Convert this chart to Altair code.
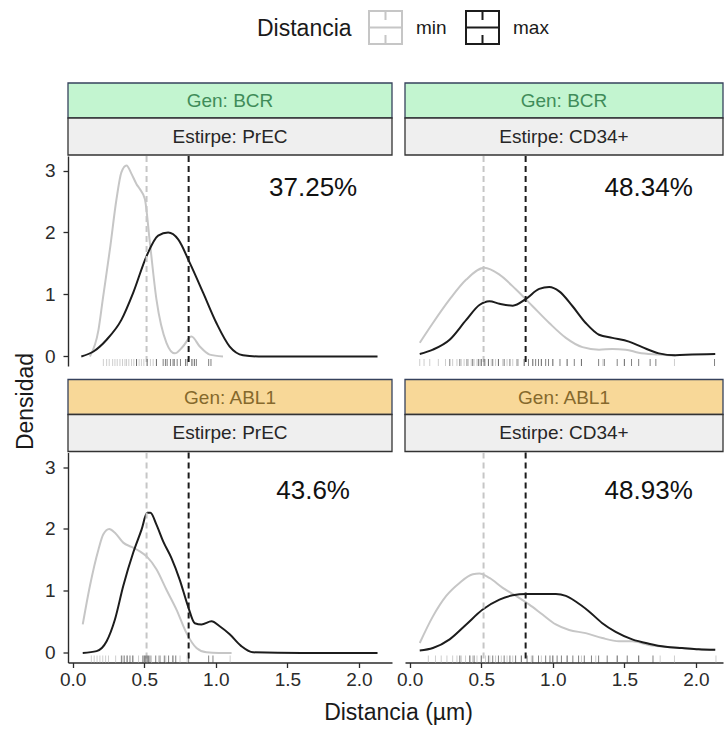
import altair as alt
import pandas as pd

# ---------------- data ----------------
GROUPS = ["min", "max"]
PCT_LABELS = ["37.25%", "48.34%", "43.6%", "48.93%"]
PCT_X = [1.68, 1.67, 1.68, 1.67]
PCT_Y = [2.72, 2.72, 2.62, 2.62]
VLINE_MIN = 0.516
VLINE_MAX = 0.81

# Panel 1: Gen BCR / Estirpe PrEC
bcr_prec_min_x = [0.12, 0.18, 0.21, 0.26, 0.306, 0.34, 0.376, 0.41, 0.446, 0.469, 0.504, 0.539, 0.585, 0.655, 0.713, 0.77, 0.83, 0.888, 0.957, 1.05]
bcr_prec_min_y = [0.0, 0.43, 0.92, 1.73, 2.54, 2.97, 3.08, 2.95, 2.78, 2.70, 2.54, 1.84, 0.92, 0.22, 0.05, 0.16, 0.32, 0.16, 0.03, 0.0]
bcr_prec_max_x = [0.06, 0.145, 0.237, 0.34, 0.423, 0.516, 0.597, 0.667, 0.737, 0.818, 0.911, 1.004, 1.097, 1.19, 1.3, 1.6, 2.13]
bcr_prec_max_y = [0.0, 0.08, 0.27, 0.59, 1.03, 1.62, 1.95, 2.0, 1.89, 1.51, 1.03, 0.54, 0.16, 0.02, 0.0, 0.0, 0.0]
bcr_prec_rug_min = [0.214, 0.237, 0.255, 0.279, 0.295, 0.311, 0.33, 0.348, 0.365, 0.376, 0.392, 0.411, 0.427, 0.446, 0.464, 0.48, 0.497, 0.52, 0.543, 0.562, 0.585, 0.83, 0.85]
bcr_prec_rug_max = [0.446, 0.52, 0.585, 0.632, 0.648, 0.66, 0.683, 0.701, 0.71, 0.73, 0.753, 0.788, 0.80, 0.834, 0.85, 0.864, 0.95, 0.966]

# Panel 2: Gen BCR / Estirpe CD34+
bcr_cd34_min_x = [0.07, 0.162, 0.279, 0.395, 0.522, 0.627, 0.743, 0.859, 0.975, 1.091, 1.207, 1.323, 1.416, 1.509, 1.6, 1.741, 1.857]
bcr_cd34_min_y = [0.22, 0.54, 0.92, 1.24, 1.43, 1.32, 1.08, 0.81, 0.54, 0.30, 0.15, 0.11, 0.12, 0.11, 0.06, 0.03, 0.01]
bcr_cd34_max_x = [0.07, 0.162, 0.279, 0.395, 0.487, 0.557, 0.627, 0.72, 0.813, 0.905, 0.975, 1.045, 1.138, 1.23, 1.323, 1.416, 1.532, 1.625, 1.741, 1.857, 1.973, 2.135]
bcr_cd34_max_y = [0.04, 0.11, 0.27, 0.59, 0.83, 0.89, 0.85, 0.82, 0.93, 1.09, 1.12, 1.05, 0.81, 0.54, 0.35, 0.30, 0.24, 0.15, 0.05, 0.02, 0.03, 0.04]
bcr_cd34_rug_min = [0.07, 0.10, 0.14, 0.20, 0.25, 0.30, 0.33, 0.36, 0.38, 0.41, 0.43, 0.45, 0.47, 0.49, 0.50, 0.52, 0.53, 0.55, 0.57, 0.60, 0.62, 0.65, 0.68, 0.72, 0.76, 0.80, 0.86, 0.92, 1.00, 1.10, 1.20, 1.35, 1.50, 1.85]
bcr_cd34_rug_max = [0.28, 0.35, 0.40, 0.44, 0.48, 0.50, 0.52, 0.55, 0.58, 0.62, 0.66, 0.70, 0.75, 0.80, 0.83, 0.86, 0.88, 0.90, 0.92, 0.95, 0.97, 1.00, 1.05, 1.10, 1.15, 1.20, 1.32, 1.36, 1.45, 1.50, 1.55, 1.60, 1.68, 1.72, 2.13]

# Panel 3: Gen ABL1 / Estirpe PrEC
abl_prec_min_x = [0.07, 0.12, 0.18, 0.213, 0.255, 0.295, 0.353, 0.411, 0.469, 0.52, 0.585, 0.655, 0.725, 0.795, 0.865, 0.934, 1.02, 1.11]
abl_prec_min_y = [0.46, 1.08, 1.67, 1.91, 2.0, 1.94, 1.78, 1.71, 1.64, 1.55, 1.35, 1.02, 0.70, 0.32, 0.08, 0.01, 0.0, 0.0]
abl_prec_max_x = [0.07, 0.167, 0.237, 0.295, 0.353, 0.423, 0.481, 0.52, 0.543, 0.585, 0.632, 0.69, 0.748, 0.806, 0.853, 0.9, 0.97, 1.027, 1.097, 1.178, 1.26, 1.6, 2.13]
abl_prec_max_y = [0.0, 0.03, 0.19, 0.54, 1.08, 1.62, 1.99, 2.26, 2.26, 2.07, 1.80, 1.53, 1.18, 0.75, 0.48, 0.46, 0.51, 0.43, 0.30, 0.11, 0.01, 0.0, 0.0]
abl_prec_rug_min = [0.13, 0.15, 0.17, 0.19, 0.21, 0.23, 0.25, 0.30, 0.35, 0.38, 0.42, 0.46, 0.50, 0.52, 0.55, 0.60, 0.65, 0.70, 0.75, 0.80, 1.10]
abl_prec_rug_max = [0.34, 0.36, 0.38, 0.40, 0.42, 0.49, 0.50, 0.51, 0.52, 0.53, 0.54, 0.58, 0.61, 0.64, 0.67, 0.70, 0.72, 0.81, 0.95, 0.98]

# Panel 4: Gen ABL1 / Estirpe CD34+
abl_cd34_min_x = [0.07, 0.162, 0.255, 0.348, 0.441, 0.487, 0.557, 0.65, 0.743, 0.836, 0.928, 1.021, 1.114, 1.23, 1.346, 1.462, 1.555, 1.671, 1.787, 1.903, 2.019, 2.135]
abl_cd34_min_y = [0.16, 0.59, 0.92, 1.13, 1.27, 1.28, 1.21, 1.05, 0.92, 0.78, 0.62, 0.46, 0.37, 0.32, 0.24, 0.19, 0.19, 0.13, 0.10, 0.08, 0.06, 0.05]
abl_cd34_max_x = [0.07, 0.162, 0.279, 0.395, 0.51, 0.627, 0.72, 0.813, 0.905, 1.021, 1.091, 1.16, 1.253, 1.346, 1.439, 1.555, 1.671, 1.787, 1.903, 2.019, 2.135]
abl_cd34_max_y = [0.04, 0.08, 0.22, 0.46, 0.70, 0.86, 0.93, 0.95, 0.95, 0.95, 0.92, 0.83, 0.67, 0.48, 0.34, 0.22, 0.15, 0.10, 0.08, 0.06, 0.05]
abl_cd34_rug_min = [0.13, 0.18, 0.22, 0.26, 0.30, 0.33, 0.36, 0.39, 0.42, 0.44, 0.47, 0.50, 0.53, 0.56, 0.60, 0.64, 0.68, 0.72, 0.78, 0.85, 0.92, 1.00, 1.10, 1.20, 1.30, 1.45, 1.60, 1.75, 1.85, 2.14]
abl_cd34_rug_max = [0.35, 0.42, 0.45, 0.50, 0.55, 0.58, 0.62, 0.66, 0.70, 0.74, 0.78, 0.82, 0.86, 0.90, 0.95, 0.98, 1.00, 1.03, 1.06, 1.10, 1.14, 1.18, 1.22, 1.27, 1.32, 1.38, 1.45, 1.52, 1.60, 1.70]

# ---------------- style ----------------
FONT = "Liberation Sans"
GREY = "#c6c6c6"
BLACK = "#1c1c1c"
AXIS_COL = "#2b2b2b"
XMIN = -0.033
PX_PER = 143.1
W_L, W_R, H = 324, 318, 210
YDOM = [-0.154, 3.234]
KEY_PATH = "M-1,-1H1V1H-1Z M-1,0H1 M0,-1V-0.45 M0,0.45V1"

GEN_STYLE = {
    "BCR": {"fill": "#c3f5d0", "text": "#3f8c59"},
    "ABL1": {"fill": "#f8d898", "text": "#85692c"},
}
STRIP_BORDER_GEN = "#36425c"
STRIP_BORDER = "#333333"
STRIP_FILL = "#efefef"

legend = alt.Legend(
    title="Distancia", orient="none", direction="horizontal",
    legendX=189, legendY=-146,
    titleOrient="left", titleFontSize=23, titleFontWeight="normal", titleColor="#1a1a1a",
    titleFont=FONT, titlePadding=16, titleBaseline="middle",
    labelFontSize=19, labelColor="#1a1a1a", labelFont=FONT, labelOffset=13,
    symbolType=KEY_PATH, symbolSize=1089, symbolStrokeWidth=2,
    symbolFillColor="transparent", columnPadding=15,
)


def axis_x(first):
    kw = dict(
        values=[0, 0.5, 1, 1.5, 2], format=".1f", grid=False,
        tickSize=5, tickWidth=1.3, tickColor=AXIS_COL,
        domainColor=AXIS_COL, domainWidth=1.4,
        labelFontSize=19, labelFont=FONT, labelColor=AXIS_COL, labelPadding=3,
    )
    if first:
        kw.update(title="Distancia (µm)", titleFontSize=23, titleFont=FONT,
                  titleFontWeight="normal", titleColor="#1a1a1a",
                  titleX=330, titleY=57, titleBaseline="alphabetic")
    else:
        kw.update(title=None)
    return alt.Axis(**kw)


def axis_y(first):
    kw = dict(
        values=[0, 1, 2, 3], grid=False, tickSize=5, tickWidth=1.3, tickColor=AXIS_COL,
        domainColor=AXIS_COL, domainWidth=1.4,
        labelFontSize=19, labelFont=FONT, labelColor=AXIS_COL, labelPadding=8,
    )
    if first:
        kw.update(title="Densidad", titleFontSize=23, titleFont=FONT, titleFontWeight="normal",
                  titleColor="#1a1a1a", titleX=-43, titleY=245, titleAngle=270,
                  titleBaseline="middle", titleAlign="center")
    else:
        kw.update(title=None)
    return alt.Axis(**kw)


def make_panel(idx, gen, estirpe, mn_x, mn_y, mx_x, mx_y, rug_min, rug_max,
               width, show_x, show_y, first_x, first_y):
    xmax = XMIN + width / PX_PER
    xs = alt.Scale(domain=[XMIN, xmax], nice=False, zero=False)
    ys = alt.Scale(domain=YDOM, nice=False, zero=False)
    xaxis = axis_x(first_x) if show_x else None
    yaxis = axis_y(first_y) if show_y else None

    X = alt.X("x:Q", scale=xs, axis=xaxis)
    Y = alt.Y("y:Q", scale=ys, axis=yaxis)

    curves = pd.concat([
        pd.DataFrame({"x": mn_x, "y": mn_y, "Distancia": "min"}),
        pd.DataFrame({"x": mx_x, "y": mx_y, "Distancia": "max"}),
    ], ignore_index=True)
    vlines = pd.DataFrame({"x": [VLINE_MIN, VLINE_MAX], "y": [0, 0],
                           "c": [GREY, BLACK]})
    rug = pd.concat([
        pd.DataFrame({"x": rug_min, "y": 0.0, "c": "#bdbdbd", "o": 0.75}),
        pd.DataFrame({"x": rug_max, "y": 0.0, "c": BLACK, "o": 0.55}),
    ], ignore_index=True)
    pct = pd.DataFrame({"x": [PCT_X[idx]], "y": [PCT_Y[idx]], "t": [PCT_LABELS[idx]]})
    strip_df = pd.DataFrame({"x": [0.0], "y": [0.0], "gen": ["Gen: " + gen],
                             "est": ["Estirpe: " + estirpe]})

    line_layer = alt.Chart(curves).mark_line(strokeWidth=2, interpolate="monotone").encode(
        x=X, y=Y,
        color=alt.Color("Distancia:N", scale=alt.Scale(domain=GROUPS, range=[GREY, BLACK]),
                        legend=legend),
        detail="Distancia:N",
    )
    vline_layer = alt.Chart(vlines).mark_rule(strokeWidth=2, strokeDash=[6, 4]).encode(
        x=X, y=alt.value(0), y2=alt.value(H), color=alt.Color("c:N", scale=None),
    )
    rug_layer = alt.Chart(rug).mark_rule(strokeWidth=1).encode(
        x=X, y=alt.value(H - 7), y2=alt.value(H),
        color=alt.Color("c:N", scale=None), opacity=alt.Opacity("o:Q", scale=None),
    )
    pct_layer = alt.Chart(pct).mark_text(fontSize=26, font=FONT, color="#111111",
                                         align="center", baseline="middle").encode(
        x=X, y=Y, text="t:N",
    )
    gs = GEN_STYLE[gen]
    gen_rect = alt.Chart(strip_df).mark_rect(fill=gs["fill"], stroke=STRIP_BORDER_GEN,
                                             strokeWidth=1.3).encode(
        x=alt.value(0), x2=alt.value(width), y=alt.value(-73), y2=alt.value(-38),
    )
    gen_text = alt.Chart(strip_df).mark_text(fontSize=19, font=FONT, color=gs["text"],
                                             align="center", baseline="middle").encode(
        x=alt.value(min(width, W_L) / 2), y=alt.value(-55), text="gen:N",
    )
    est_rect = alt.Chart(strip_df).mark_rect(fill=STRIP_FILL, stroke=STRIP_BORDER,
                                             strokeWidth=1.3).encode(
        x=alt.value(0), x2=alt.value(width), y=alt.value(-38), y2=alt.value(-1),
    )
    est_text = alt.Chart(strip_df).mark_text(fontSize=19, font=FONT, color="#262626",
                                             align="center", baseline="middle").encode(
        x=alt.value(min(width, W_L) / 2), y=alt.value(-19.5), text="est:N",
    )
    return alt.layer(gen_rect, est_rect, gen_text, est_text, line_layer, vline_layer,
                     rug_layer, pct_layer).properties(width=width, height=H)


p1 = make_panel(0, "BCR", "PrEC", bcr_prec_min_x, bcr_prec_min_y, bcr_prec_max_x, bcr_prec_max_y,
                bcr_prec_rug_min, bcr_prec_rug_max, W_L, False, True, False, True)
p2 = make_panel(1, "BCR", "CD34+", bcr_cd34_min_x, bcr_cd34_min_y, bcr_cd34_max_x, bcr_cd34_max_y,
                bcr_cd34_rug_min, bcr_cd34_rug_max, W_R, False, False, False, False)
p3 = make_panel(2, "ABL1", "PrEC", abl_prec_min_x, abl_prec_min_y, abl_prec_max_x, abl_prec_max_y,
                abl_prec_rug_min, abl_prec_rug_max, W_L, True, True, True, False)
p4 = make_panel(3, "ABL1", "CD34+", abl_cd34_min_x, abl_cd34_min_y, abl_cd34_max_x, abl_cd34_max_y,
                abl_cd34_rug_min, abl_cd34_rug_max, W_R, True, False, False, False)

row1 = alt.hconcat(p1, p2, spacing=13, bounds="flush").resolve_scale(color="shared")
row2 = alt.hconcat(p3, p4, spacing=13, bounds="flush").resolve_scale(color="shared")
chart = alt.vconcat(row1, row2, spacing=H + 86.5, bounds="flush").resolve_scale(
    color="shared"
).configure_view(stroke=None).properties(
    padding={"left": 14, "top": 10, "right": 0, "bottom": 0},
    background="white",
)

chart.save("out.html", embed_options={"renderer": "svg", "actions": False})
